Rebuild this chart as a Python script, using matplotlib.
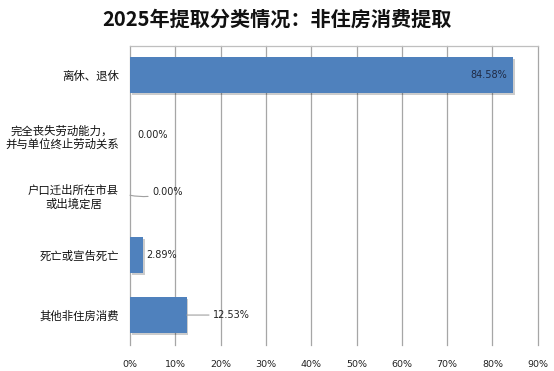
import matplotlib
matplotlib.use("Agg")
import matplotlib.pyplot as plt
import matplotlib.patheffects as pe

plt.rcParams['font.family'] = ['Noto Sans CJK SC', 'DejaVu Sans']

title = "2025年提取分类情况：非住房消费提取"
categories = [
    "离休、退休",
    "完全丧失劳动能力，\n并与单位终止劳动关系",
    "户口迁出所在市县\n或出境定居",
    "死亡或宣告死亡",
    "其他非住房消费",
]
values = [84.58, 0.00, 0.00, 2.89, 12.53]
value_labels = ["84.58%", "0.00%", "0.00%", "2.89%", "12.53%"]
xticks = [0, 10, 20, 30, 40, 50, 60, 70, 80, 90]
xtick_labels = ["0%", "10%", "20%", "30%", "40%", "50%", "60%", "70%", "80%", "90%"]

bar_color = "#4F81BD"
grid_color = "#A6A6A6"

fig = plt.figure(figsize=(5.54, 3.71), dpi=100)
ax = fig.add_axes([130 / 554, 1 - 345 / 371, (537.7 - 130) / 554, (345 - 45.5) / 371])

ypos = list(range(len(categories)))
bars = ax.barh(ypos, values, height=0.6, color=bar_color, zorder=3)
for b in bars:
    b.set_path_effects([pe.SimplePatchShadow(offset=(1.2, -1.2), shadow_rgbFace="#000000", alpha=0.2),
                        pe.Normal()])

ax.set_xlim(0, 90)
ax.set_ylim(len(categories) - 0.5, -0.5)
ax.set_xticks(xticks)
ax.set_xticklabels(xtick_labels, fontsize=6.8, color="#222222", family="DejaVu Sans")
ax.set_yticks(ypos)
ax.set_yticklabels(categories, fontsize=8.2, color="#111111", multialignment="center")
ax.tick_params(axis="x", length=0, pad=11)
ax.tick_params(axis="y", length=0, pad=8)
ax.yaxis.grid(False)
for s in ["left", "bottom", "right"]:
    ax.spines[s].set_visible(False)
ax.spines["top"].set_color("#BFBFBF")
ax.spines["top"].set_linewidth(0.9)
for xv in xticks:
    ax.axvline(xv, color=grid_color, linewidth=0.9, zorder=1, clip_on=False)

lab_kw = dict(fontsize=7, color="#222222", family="DejaVu Sans", va="center", zorder=5)
ax.annotate(value_labels[0], xy=(values[0], ypos[0]), xytext=(-4, 0),
            textcoords="offset points", ha="right", fontsize=7, color="#1F2A44",
            family="DejaVu Sans", va="center", zorder=5)
ax.annotate(value_labels[1], xy=(values[1], ypos[1]), xytext=(5, 0),
            textcoords="offset points", ha="left", **lab_kw)
ax.annotate(value_labels[2], xy=(values[2], ypos[2]), xytext=(16, 2.5),
            textcoords="offset points", ha="left",
            arrowprops=dict(arrowstyle="-", color="#A0A0A0", lw=0.8,
                            connectionstyle="arc3,rad=-0.15", shrinkA=1, shrinkB=0),
            **lab_kw)
ax.annotate(value_labels[3], xy=(values[3], ypos[3]), xytext=(2, 0),
            textcoords="offset points", ha="left", **lab_kw)
ax.annotate(value_labels[4], xy=(values[4], ypos[4]), xytext=(19, 0),
            textcoords="offset points", ha="left",
            arrowprops=dict(arrowstyle="-", color="#A0A0A0", lw=0.8, shrinkA=1, shrinkB=0),
            **lab_kw)

fig.text(0.5, 1 - 19 / 371, title, ha="center", va="center", fontsize=14.5,
         fontweight="bold", color="#111111")

fig.savefig("out.png", dpi=100)
